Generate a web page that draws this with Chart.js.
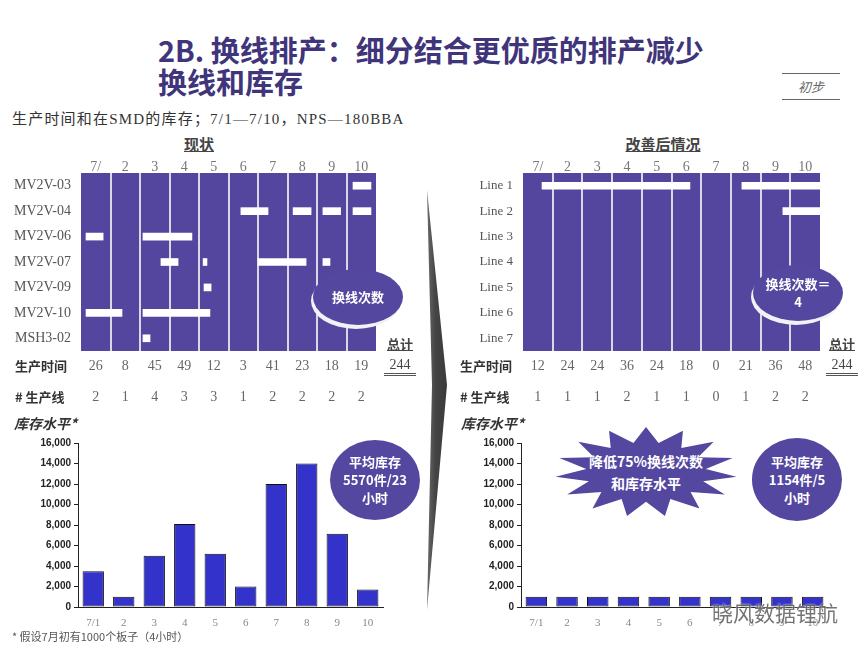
<!DOCTYPE html>
<html>
<head>
<meta charset="utf-8">
<script src="https://cdn.jsdelivr.net/npm/chart.js@4.4.1/dist/chart.umd.min.js"></script>
<style>
  body { margin: 0; background: #fff; }
  #slide { position: relative; width: 864px; height: 648px; overflow: hidden; background: #fff;
           font-family: 'Liberation Serif', 'Noto Sans CJK SC', serif; color: #333; }
  .abs { position: absolute; white-space: nowrap; }
  canvas { position: absolute; }
  .title { left: 158px; top: 33px; font: bold 29px/32px 'Noto Sans CJK SC', sans-serif; color: #40357a; }
  .head { font: bold 15px 'Noto Sans CJK SC', sans-serif; color: #444; text-decoration: underline; transform: translateX(-50%); }
  .rowlab { font: bold 13px 'Noto Sans CJK SC', sans-serif; color: #333; }
  .bubble { position: absolute; background: #54479f; border-radius: 50%; color: #fff; display: flex;
            align-items: center; justify-content: center; text-align: center;
            font: bold 13px/18px 'Noto Sans CJK SC', sans-serif; }
  .total { font: 14px 'Liberation Serif', serif; color: #444; text-align: center; width: 32px; }
</style>
</head>
<body>
<div id="slide">
  <div class="abs title">2B. 换线排产：细分结合更优质的排产减少<br>换线和库存</div>
  <div class="abs" style="left:782px;top:73px;width:58px;height:25px;border-top:1px solid #666;border-bottom:1px solid #666;text-align:center;font:italic 13px/25px 'Noto Sans CJK SC',sans-serif;color:#666">初步</div>
  <div class="abs" style="left:12px;top:107px;font:15px 'Liberation Serif','Noto Sans CJK SC',serif;letter-spacing:1.2px;color:#333">生产时间和在SMD的库存；7/1—7/10，NPS—180BBA</div>

  <div class="abs head" style="left:199px;top:133px">现状</div>
  <div class="abs head" style="left:663px;top:133px">改善后情况</div>

  <canvas id="ganttL" width="430" height="260" style="left:0;top:150px"></canvas>
  <canvas id="ganttR" width="424" height="260" style="left:440px;top:150px"></canvas>

  <div class="abs rowlab" style="left:15px;top:356px">生产时间</div>
  <div class="abs rowlab" style="left:15px;top:387px"># 生产线</div>
  <div class="abs rowlab" style="left:460px;top:356px">生产时间</div>
  <div class="abs rowlab" style="left:460px;top:387px"># 生产线</div>

  <div class="abs total" style="left:384px;top:334px;font-family:'Noto Sans CJK SC';font-size:13px;font-weight:bold;text-decoration:underline">总计</div>
  <div class="abs total" style="left:384px;top:357px;border-bottom:3px double #555;line-height:16px" id="totL"></div>
  <div class="abs total" style="left:826px;top:334px;font-family:'Noto Sans CJK SC';font-size:13px;font-weight:bold;text-decoration:underline">总计</div>
  <div class="abs total" style="left:826px;top:357px;border-bottom:3px double #555;line-height:16px" id="totR"></div>

  <div class="bubble" style="left:313px;top:269px;width:90px;height:56px;box-shadow:-2px 4px 0 #f2f2f6">换线次数</div>
  <div class="bubble" style="left:753px;top:265px;width:90px;height:56px;box-shadow:-2px 4px 0 #f2f2f6">换线次数＝<br>4</div>

  <svg class="abs" style="left:420px;top:185px" width="36" height="430">
    <defs><linearGradient id="gr" x1="0" x2="1" y1="0" y2="0"><stop offset="0" stop-color="#6a6a6a"/><stop offset="0.4" stop-color="#454545"/><stop offset="1" stop-color="#3a3a3a"/></linearGradient></defs>
    <polygon points="7,5 27,200 7,425 12,200" fill="url(#gr)"/>
  </svg>

  <div class="abs" style="left:14px;top:413px;font:italic bold 14px 'Noto Sans CJK SC',sans-serif;color:#333">库存水平*</div>
  <div class="abs" style="left:461px;top:413px;font:italic bold 14px 'Noto Sans CJK SC',sans-serif;color:#333">库存水平*</div>

  <canvas id="invL" width="430" height="215" style="left:0;top:430px"></canvas>
  <canvas id="invR" width="424" height="215" style="left:440px;top:430px"></canvas>

  <div class="bubble" style="left:330px;top:440px;width:90px;height:80px">平均库存<br>5570件/23<br>小时</div>
  <div class="bubble" style="left:752px;top:438px;width:90px;height:83px">平均库存<br>1154件/5<br>小时</div>
  <div class="bubble" id="star" style="left:555px;top:427px;width:182px;height:90px;border-radius:0;font-size:14px;line-height:22px">降低75%换线次数<br>和库存水平</div>

  <div class="abs" style="left:12px;top:628px;font:11px 'Noto Sans CJK SC',sans-serif;color:#555">* 假设7月初有1000个板子（4小时）</div>
  <div class="abs" style="left:712px;top:597px;font:21px 'Noto Sans CJK SC',sans-serif;color:rgba(70,70,70,0.75);text-shadow:0 0 2px #fff">晓风数据锂航</div>
</div>

<script>
// --- data ---
const dayLabels = ['7/', '2', '3', '4', '5', '6', '7', '8', '9', '10'];
const invDayLabels = ['7/1', '2', '3', '4', '5', '6', '7', '8', '9', '10'];

const productRows = ['MV2V-03', 'MV2V-04', 'MV2V-06', 'MV2V-07', 'MV2V-09', 'MV2V-10', 'MSH3-02'];
const lineRows = ['Line 1', 'Line 2', 'Line 3', 'Line 4', 'Line 5', 'Line 6', 'Line 7'];

// [row, start day, end day]
const runsBefore = [
    ['MV2V-03', 9.22, 9.83],
    ['MV2V-04', 5.42, 6.34], ['MV2V-04', 7.19, 7.8], ['MV2V-04', 8.2, 8.8], ['MV2V-04', 9.22, 9.83],
    ['MV2V-06', 0.17, 0.75], ['MV2V-06', 2.1, 3.76],
    ['MV2V-07', 2.71, 3.29], ['MV2V-07', 4.14, 4.27], ['MV2V-07', 6.0, 7.63], ['MV2V-07', 8.2, 8.44],
    ['MV2V-09', 4.17, 4.41],
    ['MV2V-10', 0.17, 1.39], ['MV2V-10', 2.1, 4.37],
    ['MSH3-02', 2.1, 2.34]
];
const runsAfter = [
    ['Line 1', 0.64, 5.62], ['Line 1', 7.37, 10],
    ['Line 2', 8.75, 10]
];

const hoursBefore = [26, 8, 45, 49, 12, 3, 41, 23, 18, 19];
const linesBefore = [2, 1, 4, 3, 3, 1, 2, 2, 2, 2];
const hoursAfter = [12, 24, 24, 36, 24, 18, 0, 21, 36, 48];
const linesAfter = [1, 1, 1, 2, 1, 1, 0, 1, 2, 2];
const totalBefore = 244;
const totalAfter = 244;

const invBefore = [3500, 1000, 5000, 8100, 5200, 2000, 12000, 14000, 7150, 1700];
const invAfter = [1000, 1000, 1000, 1000, 1000, 1000, 1000, 1000, 1000, 1000];
const invTicks = [0, 2000, 4000, 6000, 8000, 10000, 12000, 14000, 16000];

document.getElementById('totL').textContent = totalBefore;
document.getElementById('totR').textContent = totalAfter;

// starburst shape
const pts = [];
const spikes = 15;
for (let i = 0; i < spikes * 2; i++) {
    const a = Math.PI * i / spikes - Math.PI / 2;
    const r = i % 2 ? 0.66 : 1;
    pts.push(`${(50 + 50 * r * Math.cos(a)).toFixed(1)}% ${(50 + 50 * r * Math.sin(a)).toFixed(1)}%`);
}
document.getElementById('star').style.clipPath = `polygon(${pts.join(',')})`;

// purple panel behind the gantt grid
const panelBg = {
    id: 'panelBg',
    beforeDraw(chart) {
        const { ctx, chartArea: a } = chart;
        ctx.save();
        ctx.fillStyle = '#54469e';
        ctx.fillRect(a.left, a.top, a.right - a.left, a.bottom - a.top);
        ctx.restore();
    }
};

// hours and line counts under each column
const colValues = {
    id: 'colValues',
    afterDraw(chart, args, opts) {
        const { ctx, scales: { x } } = chart;
        ctx.save();
        ctx.font = '14px "Liberation Serif"';
        ctx.fillStyle = '#666';
        ctx.textAlign = 'center';
        ctx.textBaseline = 'middle';
        opts.hours.forEach((v, i) => ctx.fillText(v, x.getPixelForValue(i + 0.5), 216));
        opts.lines.forEach((v, i) => ctx.fillText(v, x.getPixelForValue(i + 0.5), 247));
        ctx.restore();
    }
};

function makeGantt(id, rows, runs, hours, lines, labelWidth, padRight, labelSize) {
    new Chart(document.getElementById(id), {
        type: 'bar',
        data: {
            labels: rows,
            datasets: [{
                data: runs.map(([row, s, e]) => ({ x: [s, e], y: row })),
                backgroundColor: '#ffffff',
                barThickness: 7,
                borderSkipped: false
            }]
        },
        options: {
            indexAxis: 'y',
            responsive: false,
            animation: false,
            layout: { padding: { left: 0, top: 0, right: padRight, bottom: 59 } },
            plugins: {
                legend: { display: false },
                tooltip: { enabled: false },
                colValues: { hours, lines }
            },
            scales: {
                x: {
                    type: 'linear', min: 0, max: 10, position: 'bottom',
                    ticks: { display: false, stepSize: 1 },
                    grid: {
                        drawTicks: false, lineWidth: 2,
                        color: c => (c.tick.value > 0 && c.tick.value < 10) ? '#d9d9e6' : 'rgba(0,0,0,0)'
                    },
                    border: { display: false },
                    afterFit: s => { s.height = 0; }
                },
                xTop: {
                    type: 'category', position: 'top', labels: dayLabels, offset: true,
                    grid: { display: false, drawTicks: false },
                    border: { display: false },
                    ticks: { color: '#777', padding: -3, font: { family: 'Liberation Serif', size: 14 } },
                    afterFit: s => { s.height = 23; }
                },
                y: {
                    type: 'category',
                    grid: { display: false, drawTicks: false },
                    border: { display: false },
                    ticks: { color: '#555', padding: 10, font: { family: 'Liberation Serif', size: labelSize } },
                    afterFit: s => { s.width = labelWidth; }
                }
            }
        },
        plugins: [panelBg, colValues]
    });
}

makeGantt('ganttL', productRows, runsBefore, hoursBefore, linesBefore, 81, 54, 14);
makeGantt('ganttR', lineRows, runsAfter, hoursAfter, linesAfter, 83, 44, 13);

function makeInventory(id, values, axisWidth, padRight) {
    new Chart(document.getElementById(id), {
        type: 'bar',
        data: {
            labels: invDayLabels,
            datasets: [{
                data: values,
                backgroundColor: '#3333cc',
                borderColor: '#111',
                borderWidth: 1,
                borderSkipped: false,
                categoryPercentage: 1,
                barPercentage: 0.7
            }]
        },
        options: {
            responsive: false,
            animation: false,
            layout: { padding: { left: 0, top: 13, right: padRight, bottom: 15 } },
            plugins: { legend: { display: false }, tooltip: { enabled: false } },
            scales: {
                x: {
                    grid: { display: false, drawTicks: false },
                    border: { color: '#222', width: 1 },
                    ticks: { color: '#888', padding: 10, font: { family: 'Liberation Serif', size: 11 } },
                    afterFit: s => { s.height = 23; }
                },
                y: {
                    min: 0, max: 16000,
                    afterBuildTicks: s => { s.ticks = invTicks.map(v => ({ value: v })); },
                    grid: { drawOnChartArea: false, drawTicks: true, tickLength: 4, color: '#222' },
                    border: { color: '#222', width: 1 },
                    ticks: {
                        color: '#222', padding: 3,
                        font: { family: 'Liberation Sans', size: 10, weight: 'bold' },
                        callback: v => v.toLocaleString('en-US')
                    },
                    afterFit: s => { s.width = axisWidth; }
                }
            }
        }
    });
}

makeInventory('invL', invBefore, 78, 47);
makeInventory('invR', invAfter, 81, 36);
</script>
</body>
</html>
